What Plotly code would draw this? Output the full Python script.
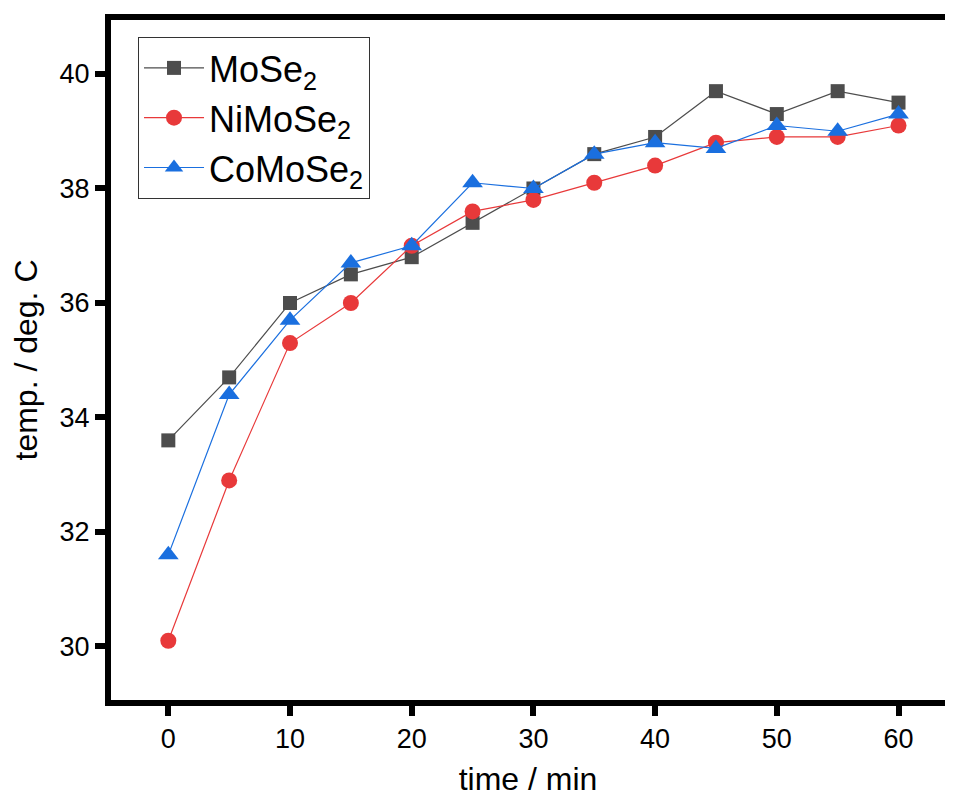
import plotly.graph_objects as go

time_min = [0, 5, 10, 15, 20, 25, 30, 35, 40, 45, 50, 55, 60]
mose2 = [33.6, 34.7, 36.0, 36.5, 36.8, 37.4, 38.0, 38.6, 38.9, 39.7, 39.3, 39.7, 39.5]
nimose2 = [30.1, 32.9, 35.3, 36.0, 37.0, 37.6, 37.8, 38.1, 38.4, 38.8, 38.9, 38.9, 39.1]
comose2 = [31.6, 34.4, 35.7, 36.7, 37.0, 38.1, 38.0, 38.6, 38.8, 38.7, 39.1, 39.0, 39.3]
names = ["MoSe<sub>2</sub>", "NiMoSe<sub>2</sub>", "CoMoSe<sub>2</sub>"]
x_ticks = [0, 10, 20, 30, 40, 50, 60]
y_ticks = [30, 32, 34, 36, 38, 40]

fig = go.Figure()
fig.add_trace(go.Scatter(x=time_min, y=mose2, name=names[0], mode="lines+markers",
                         line=dict(color="#4d4d4d", width=1.2),
                         marker=dict(symbol="square", size=14, color="#4d4d4d")))
fig.add_trace(go.Scatter(x=time_min, y=nimose2, name=names[1], mode="lines+markers",
                         line=dict(color="#e8393a", width=1.2),
                         marker=dict(symbol="circle", size=16, color="#e8393a")))
fig.add_trace(go.Scatter(x=time_min, y=comose2, name=names[2], mode="lines+markers",
                         line=dict(color="#1a6fdf", width=1.2),
                         marker=dict(symbol="triangle-up", size=18, color="#1a6fdf")))

FONT = "Liberation Sans, Arial"
axis_font = dict(family=FONT, size=27, color="black")
fig.update_layout(
    width=937, height=789,
    margin=dict(l=103, r=0, t=12, b=97),
    plot_bgcolor="white", paper_bgcolor="white",
    font=dict(family=FONT, color="black"),
    showlegend=True,
    legend=dict(x=0.0324, y=0.975, xanchor="left", yanchor="top",
                bordercolor="#333333", borderwidth=1, bgcolor="white",
                font=dict(size=36, family=FONT, color="black"),
                tracegroupgap=0, itemwidth=60),
    xaxis=dict(range=[-4.71, 63.82], tickvals=x_ticks, showgrid=False, zeroline=False,
               showline=True, linecolor="black", linewidth=6, mirror=True,
               ticks="outside", ticklen=10, tickwidth=6, tickcolor="black",
               tickfont=axis_font,
               title=dict(text="time / min", font=dict(size=32, family=FONT), standoff=20)),
    yaxis=dict(range=[29.065, 40.943], tickvals=y_ticks, showgrid=False, zeroline=False,
               showline=True, linecolor="black", linewidth=6, mirror=False,
               ticks="outside", ticklen=10, tickwidth=6, tickcolor="black",
               tickfont=axis_font,
               title=dict(text="temp. / deg. C", font=dict(size=32, family=FONT), standoff=14)),
)

fig.write_html("out.html")
